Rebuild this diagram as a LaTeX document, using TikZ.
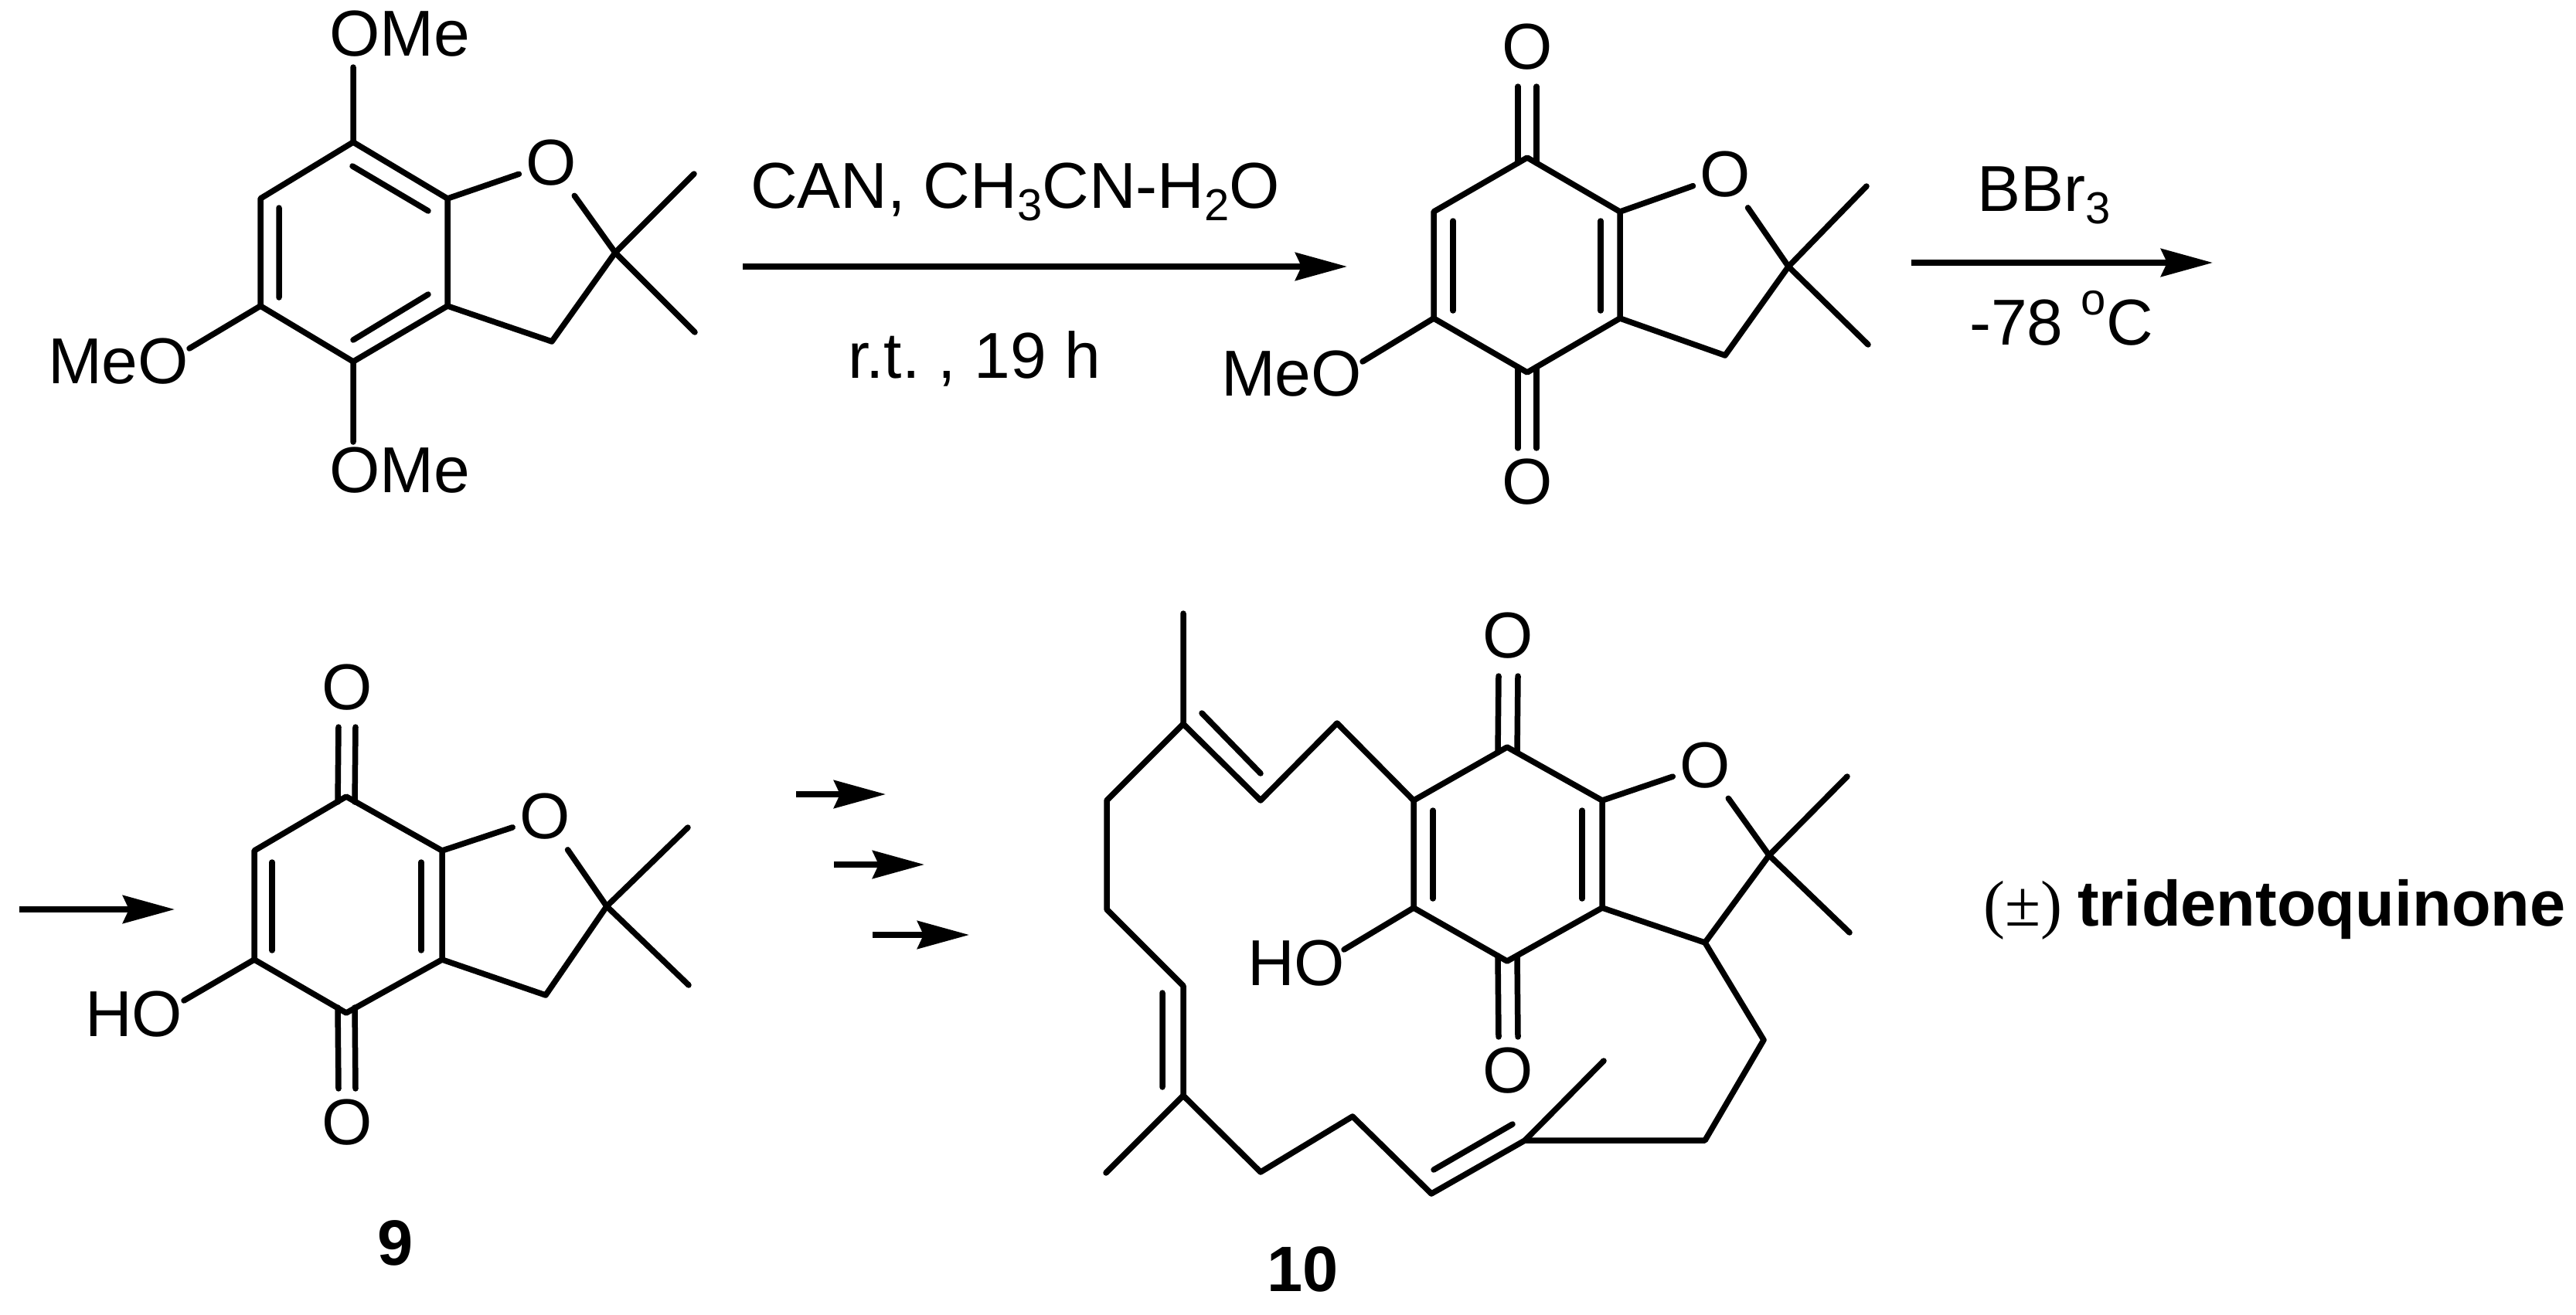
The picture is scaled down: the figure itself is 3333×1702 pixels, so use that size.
\documentclass[tikz,border=0pt]{standalone}
\usepackage{fontspec}
\setmainfont{Liberation Sans}
\newfontfamily\serifpm{Liberation Serif}
\usetikzlibrary{arrows.meta}
\frenchspacing
\newcommand{\dn}[1]{\raisebox{-16pt}{\fontsize{58}{60}\selectfont #1}}
\newcommand{\upo}[1]{\raisebox{39pt}{\fontsize{58}{60}\selectfont #1}}
\tikzset{
  bond/.style={line width=7.5pt,line cap=round,line join=round,black},
  rxn/.style={line width=7.5pt,black,-{Stealth[length=67pt,width=36pt,inset=8pt]}},
  lab/.style={anchor=base west,inner sep=0pt,outer sep=0pt,font=\fontsize{84}{90}\selectfont},
  boldlab/.style={lab,font=\fontsize{83}{90}\selectfont\bfseries},
  atom/.style={circle,inner sep=0pt,outer sep=0pt,minimum size=72pt,font=\fontsize{84}{90}\selectfont},
  oc/.style={shorten <=8pt},
}
\begin{document}
\begin{tikzpicture}[x=1pt,y=-1pt]
\useasboundingbox[fill=white] (0,0) rectangle (3333,1702);

% ---------- compound 1
\coordinate (a1) at (457,184);
\coordinate (a2) at (337,257);
\coordinate (a3) at (337,396);
\coordinate (a4) at (457,468);
\coordinate (a5) at (579,396);
\coordinate (a6) at (579,257);
\coordinate (a7) at (796,327);
\coordinate (a8) at (714,442);
\coordinate (a9) at (898,225);
\coordinate (a10) at (899,430);
\coordinate (ai1) at (456,215);
\coordinate (ai2) at (554,273);
\coordinate (ai3) at (361,269);
\coordinate (ai4) at (361,385);
\coordinate (ai5) at (554,381);
\coordinate (ai6) at (457,440);
\node[atom] (aO) at (713,211) {O};
\node[lab] (aome1) at (426,73) {OMe};
\node[lab] (ameo) at (62,496) {MeO};
\node[lab] (aome2) at (426,637) {OMe};
\coordinate (ab1) at (457,87);
\coordinate (ab2) at (245,451);
\coordinate (ab3) at (457,572);
\draw[bond] (a1) -- (a2) -- (a3) -- (a4) -- (a5) -- (a6) -- cycle;
\draw[bond] (ai1) -- (ai2) (ai3) -- (ai4) (ai5) -- (ai6);
\draw[bond] (a6) -- (aO);
\draw[bond,oc] (aO) -- (a7);
\draw[bond] (a7) -- (a8) -- (a5);
\draw[bond] (a9) -- (a7) -- (a10);
\draw[bond] (ab1) -- (a1) (ab2) -- (a3) (ab3) -- (a4);

% ---------- arrow 1
\coordinate (r1s) at (961,345);
\coordinate (r1e) at (1743,345);
\draw[rxn] (r1s) -- (r1e);
\node[lab] (r1t) at (971,269) {CAN, CH\dn{3}CN-H\dn{2}O};
\node[lab] (r1b) at (1097,489) {r.t. , 19 h};

% ---------- compound 2
\coordinate (b1) at (1976,204);
\coordinate (b2) at (1855,274);
\coordinate (b3) at (1855,412);
\coordinate (b4) at (1976,482);
\coordinate (b5) at (2096,412);
\coordinate (b6) at (2096,274);
\coordinate (b7) at (2314,345);
\coordinate (b8) at (2232,460);
\coordinate (b9) at (2415,241);
\coordinate (b10) at (2417,446);
\coordinate (bi1) at (1880,286);
\coordinate (bi2) at (1880,402);
\coordinate (bi3) at (2071,286);
\coordinate (bi4) at (2071,402);
\node[atom] (bO) at (2232,226) {O};
\node[atom] (bOt) at (1976,61) {O};
\node[atom] (bOb) at (1976,624) {O};
\node[lab] (bmeo) at (1580,512) {MeO};
\coordinate (bb) at (1763,468);
\draw[bond] (b1) -- (b2) -- (b3) -- (b4) -- (b5) -- (b6) -- cycle;
\draw[bond] (bi1) -- (bi2) (bi3) -- (bi4);
\draw[bond] (b6) -- (bO);
\draw[bond,oc] (bO) -- (b7);
\draw[bond] (b7) -- (b8) -- (b5);
\draw[bond] (b9) -- (b7) -- (b10);
\draw[bond] (bb) -- (b3);
\draw[bond] ([xshift=-12pt,yshift=-7pt]bOt.south) -- ([xshift=-12pt,yshift=-7pt]b1);
\draw[bond] ([xshift=12pt,yshift=-7pt]bOt.south) -- ([xshift=12pt,yshift=-7pt]b1);
\draw[bond] ([xshift=-12pt]bOb.north) -- ([xshift=-12pt,yshift=7pt]b4);
\draw[bond] ([xshift=12pt]bOb.north) -- ([xshift=12pt,yshift=7pt]b4);

% ---------- arrow 2
\coordinate (r2s) at (2473,340);
\coordinate (r2e) at (2863,340);
\draw[rxn] (r2s) -- (r2e);
\node[lab] (r2t) at (2558,273) {BBr\dn{3}};
\node[lab] (r2b) at (2548,446) {-78 \upo{o}C};

% ---------- arrow 3 and short arrows
\coordinate (r3s) at (25,1177);
\coordinate (r3e) at (226,1177);
\draw[rxn] (r3s) -- (r3e);
\coordinate (r4s) at (1030,1028);
\coordinate (r4e) at (1146,1028);
\draw[rxn] (r4s) -- (r4e);
\coordinate (r5s) at (1079,1119);
\coordinate (r5e) at (1196,1119);
\draw[rxn] (r5s) -- (r5e);
\coordinate (r6s) at (1129,1210);
\coordinate (r6e) at (1254,1210);
\draw[rxn] (r6s) -- (r6e);

% ---------- compound 9
\coordinate (c1) at (448,1031);
\coordinate (c2) at (329,1101);
\coordinate (c3) at (329,1242);
\coordinate (c4) at (448,1311);
\coordinate (c5) at (572,1242);
\coordinate (c6) at (572,1101);
\coordinate (c7) at (785,1173);
\coordinate (c8) at (706,1288);
\coordinate (c9) at (890,1071);
\coordinate (c10) at (891,1275);
\coordinate (ci1) at (352,1116);
\coordinate (ci2) at (352,1230);
\coordinate (ci3) at (545,1116);
\coordinate (ci4) at (545,1230);
\node[atom] (cO) at (705,1057) {O};
\node[atom] (cOt) at (449,890) {O};
\node[atom] (cOb) at (449,1453) {O};
\node[lab] (cho) at (110,1341) {HO};
\coordinate (cb) at (238,1295);
\draw[bond] (c1) -- (c2) -- (c3) -- (c4) -- (c5) -- (c6) -- cycle;
\draw[bond] (ci1) -- (ci2) (ci3) -- (ci4);
\draw[bond] (c6) -- (cO);
\draw[bond,oc] (cO) -- (c7);
\draw[bond] (c7) -- (c8) -- (c5);
\draw[bond] (c9) -- (c7) -- (c10);
\draw[bond] (cb) -- (c3);
\draw[bond] ([xshift=-11pt,yshift=-7pt]cOt.south) -- ([xshift=-11pt,yshift=-7pt]c1);
\draw[bond] ([xshift=11pt,yshift=-7pt]cOt.south) -- ([xshift=11pt,yshift=-7pt]c1);
\draw[bond] ([xshift=-11pt]cOb.north) -- ([xshift=-11pt,yshift=7pt]c4);
\draw[bond] ([xshift=11pt]cOb.north) -- ([xshift=11pt,yshift=7pt]c4);
\node[boldlab] (c9lab) at (488,1637) {9};

% ---------- compound 10
\coordinate (d1) at (1829,1036);
\coordinate (d2) at (1950,967);
\coordinate (d3) at (2073,1036);
\coordinate (d4) at (2073,1175);
\coordinate (d5) at (1950,1244);
\coordinate (d6) at (1829,1175);
\coordinate (di1) at (1854,1049);
\coordinate (di2) at (1854,1163);
\coordinate (di3) at (2047,1049);
\coordinate (di4) at (2047,1163);
\node[atom] (dO) at (2206,991) {O};
\node[atom] (dOt) at (1951,823) {O};
\node[atom] (dOb) at (1951,1386) {O};
\node[lab] (dho) at (1614,1275) {HO};
\coordinate (db) at (1739,1229);
\coordinate (d7) at (2289,1107);
\coordinate (d8) at (2206,1220);
\coordinate (d9) at (2390,1005);
\coordinate (d10) at (2393,1207);
\coordinate (e1) at (2282,1346);
\coordinate (e2) at (2206,1476);
\coordinate (e3) at (1973,1476);
\coordinate (e3m) at (2075,1373);
\coordinate (e4) at (1852,1545);
\coordinate (e4a) at (1957,1455);
\coordinate (e4b) at (1855,1514);
\coordinate (e5) at (1750,1445);
\coordinate (e6) at (1631,1517);
\coordinate (e7) at (1531,1418);
\coordinate (e7m) at (1431,1518);
\coordinate (e8) at (1531,1276);
\coordinate (e8a) at (1504,1285);
\coordinate (e8b) at (1504,1407);
\coordinate (e9) at (1432,1177);
\coordinate (e10) at (1432,1036);
\coordinate (e11) at (1531,937);
\coordinate (e11m) at (1531,794);
\coordinate (e12) at (1631,1036);
\coordinate (e12a) at (1555,923);
\coordinate (e12b) at (1631,1001);
\coordinate (e13) at (1730,936);
\draw[bond] (d1) -- (d2) -- (d3) -- (d4) -- (d5) -- (d6) -- cycle;
\draw[bond] (di1) -- (di2) (di3) -- (di4);
\draw[bond] (d3) -- (dO);
\draw[bond,oc] (dO) -- (d7);
\draw[bond] (d7) -- (d8) -- (d4);
\draw[bond] (d9) -- (d7) -- (d10);
\draw[bond] (db) -- (d6);
\draw[bond] ([xshift=-12pt,yshift=-8pt]dOt.south) -- ([xshift=-12pt,yshift=-7pt]d2);
\draw[bond] ([xshift=13pt,yshift=-8pt]dOt.south) -- ([xshift=13pt,yshift=-7pt]d2);
\draw[bond] ([xshift=-12pt]dOb.north) -- ([xshift=-12pt,yshift=7pt]d5);
\draw[bond] ([xshift=13pt]dOb.north) -- ([xshift=13pt,yshift=7pt]d5);
\draw[bond] (d8) -- (e1) -- (e2) -- (e3) -- (e4) -- (e5) -- (e6) -- (e7) -- (e8) -- (e9) -- (e10) -- (e11) -- (e12) -- (e13) -- (d1);
\draw[bond] (e3) -- (e3m) (e4a) -- (e4b) (e7) -- (e7m) (e8a) -- (e8b) (e11) -- (e11m) (e12a) -- (e12b);
\node[boldlab] (d10lab) at (1639,1671) {10};

% ---------- product name
\node[lab,font=\fontsize{84}{90}\selectfont\serifpm] (pm) at (2566,1198) {(±)};
\node[boldlab] (prod) at (2688,1198) {tridentoquinone};
\end{tikzpicture}
\end{document}
